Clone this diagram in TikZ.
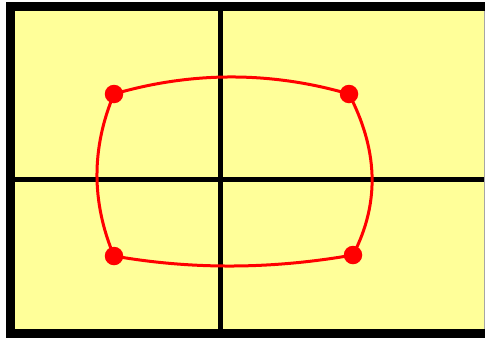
\documentclass[tikz,border=0pt]{standalone}
\definecolor{paneyellow}{RGB}{255,255,153}
\definecolor{curvered}{RGB}{255,0,0}
\tikzset{
  corner/.style={circle,fill=curvered,inner sep=0pt,minimum size=18.5pt},
  edgecurve/.style={draw=curvered,line width=3pt},
  gridline/.style={draw=black,line width=5pt}
}
\begin{document}
\begin{tikzpicture}[x=1pt,y=-1pt]
\useasboundingbox[fill=white] (0,0) rectangle (485,338);
% frame
\fill[black] (6,2) rectangle (485,338);
\fill[paneyellow] (15,11) rectangle (484,329);
\draw[gray!70,line width=0.8pt] (484.4,11) -- (484.4,329);
% grid lines
\coordinate (vt) at (220.5,11);
\coordinate (vb) at (220.5,329);
\coordinate (hl) at (15,179);
\coordinate (hr) at (484,179);
\draw[gridline] (vt) -- (vb);
\draw[gridline] (hl) -- (hr);
% corner positions
\coordinate (ptl) at (114,94);
\coordinate (ptr) at (349,94);
\coordinate (pbl) at (114,256);
\coordinate (pbr) at (353,255);
% curves
\draw[edgecurve] (ptl) .. controls (192,71.3) and (271,71.3) .. (ptr);
\draw[edgecurve] (pbl) .. controls (194,270) and (273,269) .. (pbr);
\draw[edgecurve] (ptl) .. controls (91.3,148) and (91.3,202) .. (pbl);
\draw[edgecurve] (ptr) .. controls (377,148) and (381,201) .. (pbr);
% corner points
\node[corner] (tl) at (ptl) {};
\node[corner] (tr) at (ptr) {};
\node[corner] (bl) at (pbl) {};
\node[corner] (br) at (pbr) {};
\end{tikzpicture}
\end{document}
